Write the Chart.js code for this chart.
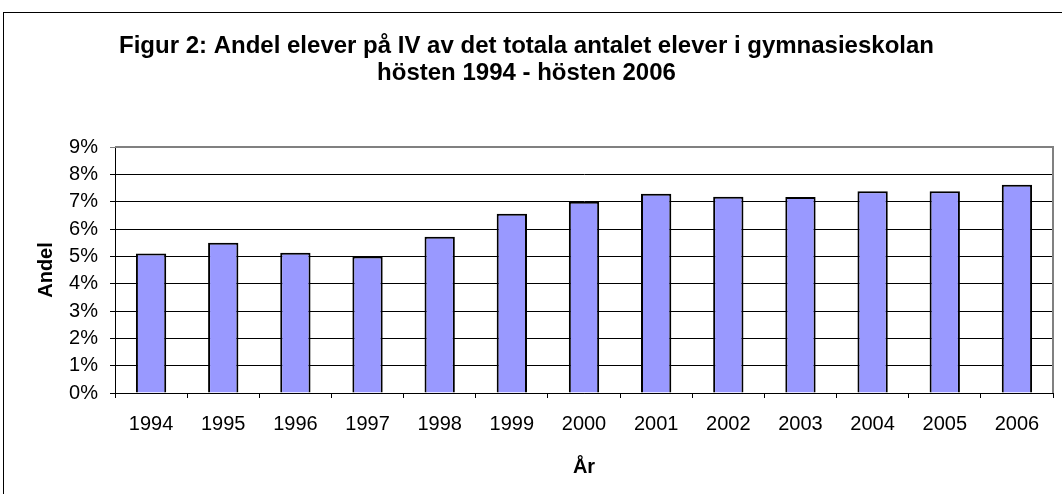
<!DOCTYPE html>
<html>
<head>
<meta charset="utf-8">
<script src="https://cdn.jsdelivr.net/npm/chart.js@4"></script>
<style>
  html, body { margin: 0; padding: 0; background: #fff; overflow: hidden; }
  #wrap { position: relative; width: 1062px; height: 494px; }
  #frame { position: absolute; left: 3px; top: 12px; width: 1200px; height: 600px; border: 1px solid #000; }
  canvas { position: absolute; left: 0; top: 0; }
</style>
</head>
<body>
<div id="wrap">
  <div id="frame"></div>
  <canvas id="chart" width="1062" height="494"></canvas>
</div>
<script>
const years = ['1994','1995','1996','1997','1998','1999','2000','2001','2002','2003','2004','2005','2006'];
const andel = [0.0510, 0.0550, 0.0513, 0.0499, 0.0572, 0.0656, 0.0700, 0.0729, 0.0718, 0.0717, 0.0738, 0.0738, 0.0762];
const titleLines = ['Figur 2: Andel elever på IV av det totala antalet elever i gymnasieskolan', 'hösten 1994 - hösten 2006'];
const yTitle = 'Andel';
const xTitle = 'År';

Chart.defaults.font.family = '"Liberation Sans", Arial, sans-serif';
Chart.defaults.color = '#000';

// gray plot-area border (top + right), Excel style
const plotBorder = {
  id: 'plotBorder',
  afterDatasetsDraw(chart) {
    const a = chart.chartArea, ctx = chart.ctx;
    ctx.save();
    ctx.strokeStyle = '#808080';
    ctx.lineWidth = 2;
    ctx.beginPath();
    ctx.moveTo(a.left, a.top);
    ctx.lineTo(a.right, a.top);
    ctx.lineTo(a.right, a.bottom);
    ctx.stroke();
    ctx.restore();
  }
};

new Chart(document.getElementById('chart').getContext('2d'), {
  type: 'bar',
  data: {
    labels: years,
    datasets: [{
      data: andel,
      backgroundColor: '#9999FF',
      borderColor: '#000',
      borderWidth: 2,
      barPercentage: 0.42,
      categoryPercentage: 1
    }]
  },
  options: {
    responsive: false,
    animation: false,
    layout: { padding: { left: 0, right: 9, top: 0, bottom: 0 } },
    plugins: {
      legend: { display: false },
      tooltip: { enabled: false },
      title: {
        display: true,
        text: titleLines,
        font: { size: 24, weight: 'bold', lineHeight: 1.125 },
        padding: { top: 33, bottom: 60 }
      }
    },
    scales: {
      x: {
        grid: { drawOnChartArea: false, tickLength: 5, color: '#000', offset: true },
        border: { color: '#000', width: 1 },
        ticks: { font: { size: 20 }, padding: 14, maxRotation: 0 },
        title: { display: true, text: xTitle, font: { size: 20, weight: 'bold' }, padding: { top: 0, bottom: 15 } },
        afterFit: s => { s.height = 101; }
      },
      y: {
        min: 0, max: 0.09,
        grid: {
          tickLength: 5,
          color: c => (c.tick && c.tick.value >= 0.0899 ? '#808080' : '#000')
        },
        border: { color: '#000', width: 1 },
        ticks: { stepSize: 0.01, font: { size: 20 }, padding: 12, callback: v => Math.round(v * 100) + '%' },
        title: { display: true, text: yTitle, font: { size: 20, weight: 'bold' }, padding: { top: 34, bottom: 0 } },
        afterFit: s => { s.width = 115; }
      }
    }
  },
  plugins: [plotBorder]
});
</script>
</body>
</html>
